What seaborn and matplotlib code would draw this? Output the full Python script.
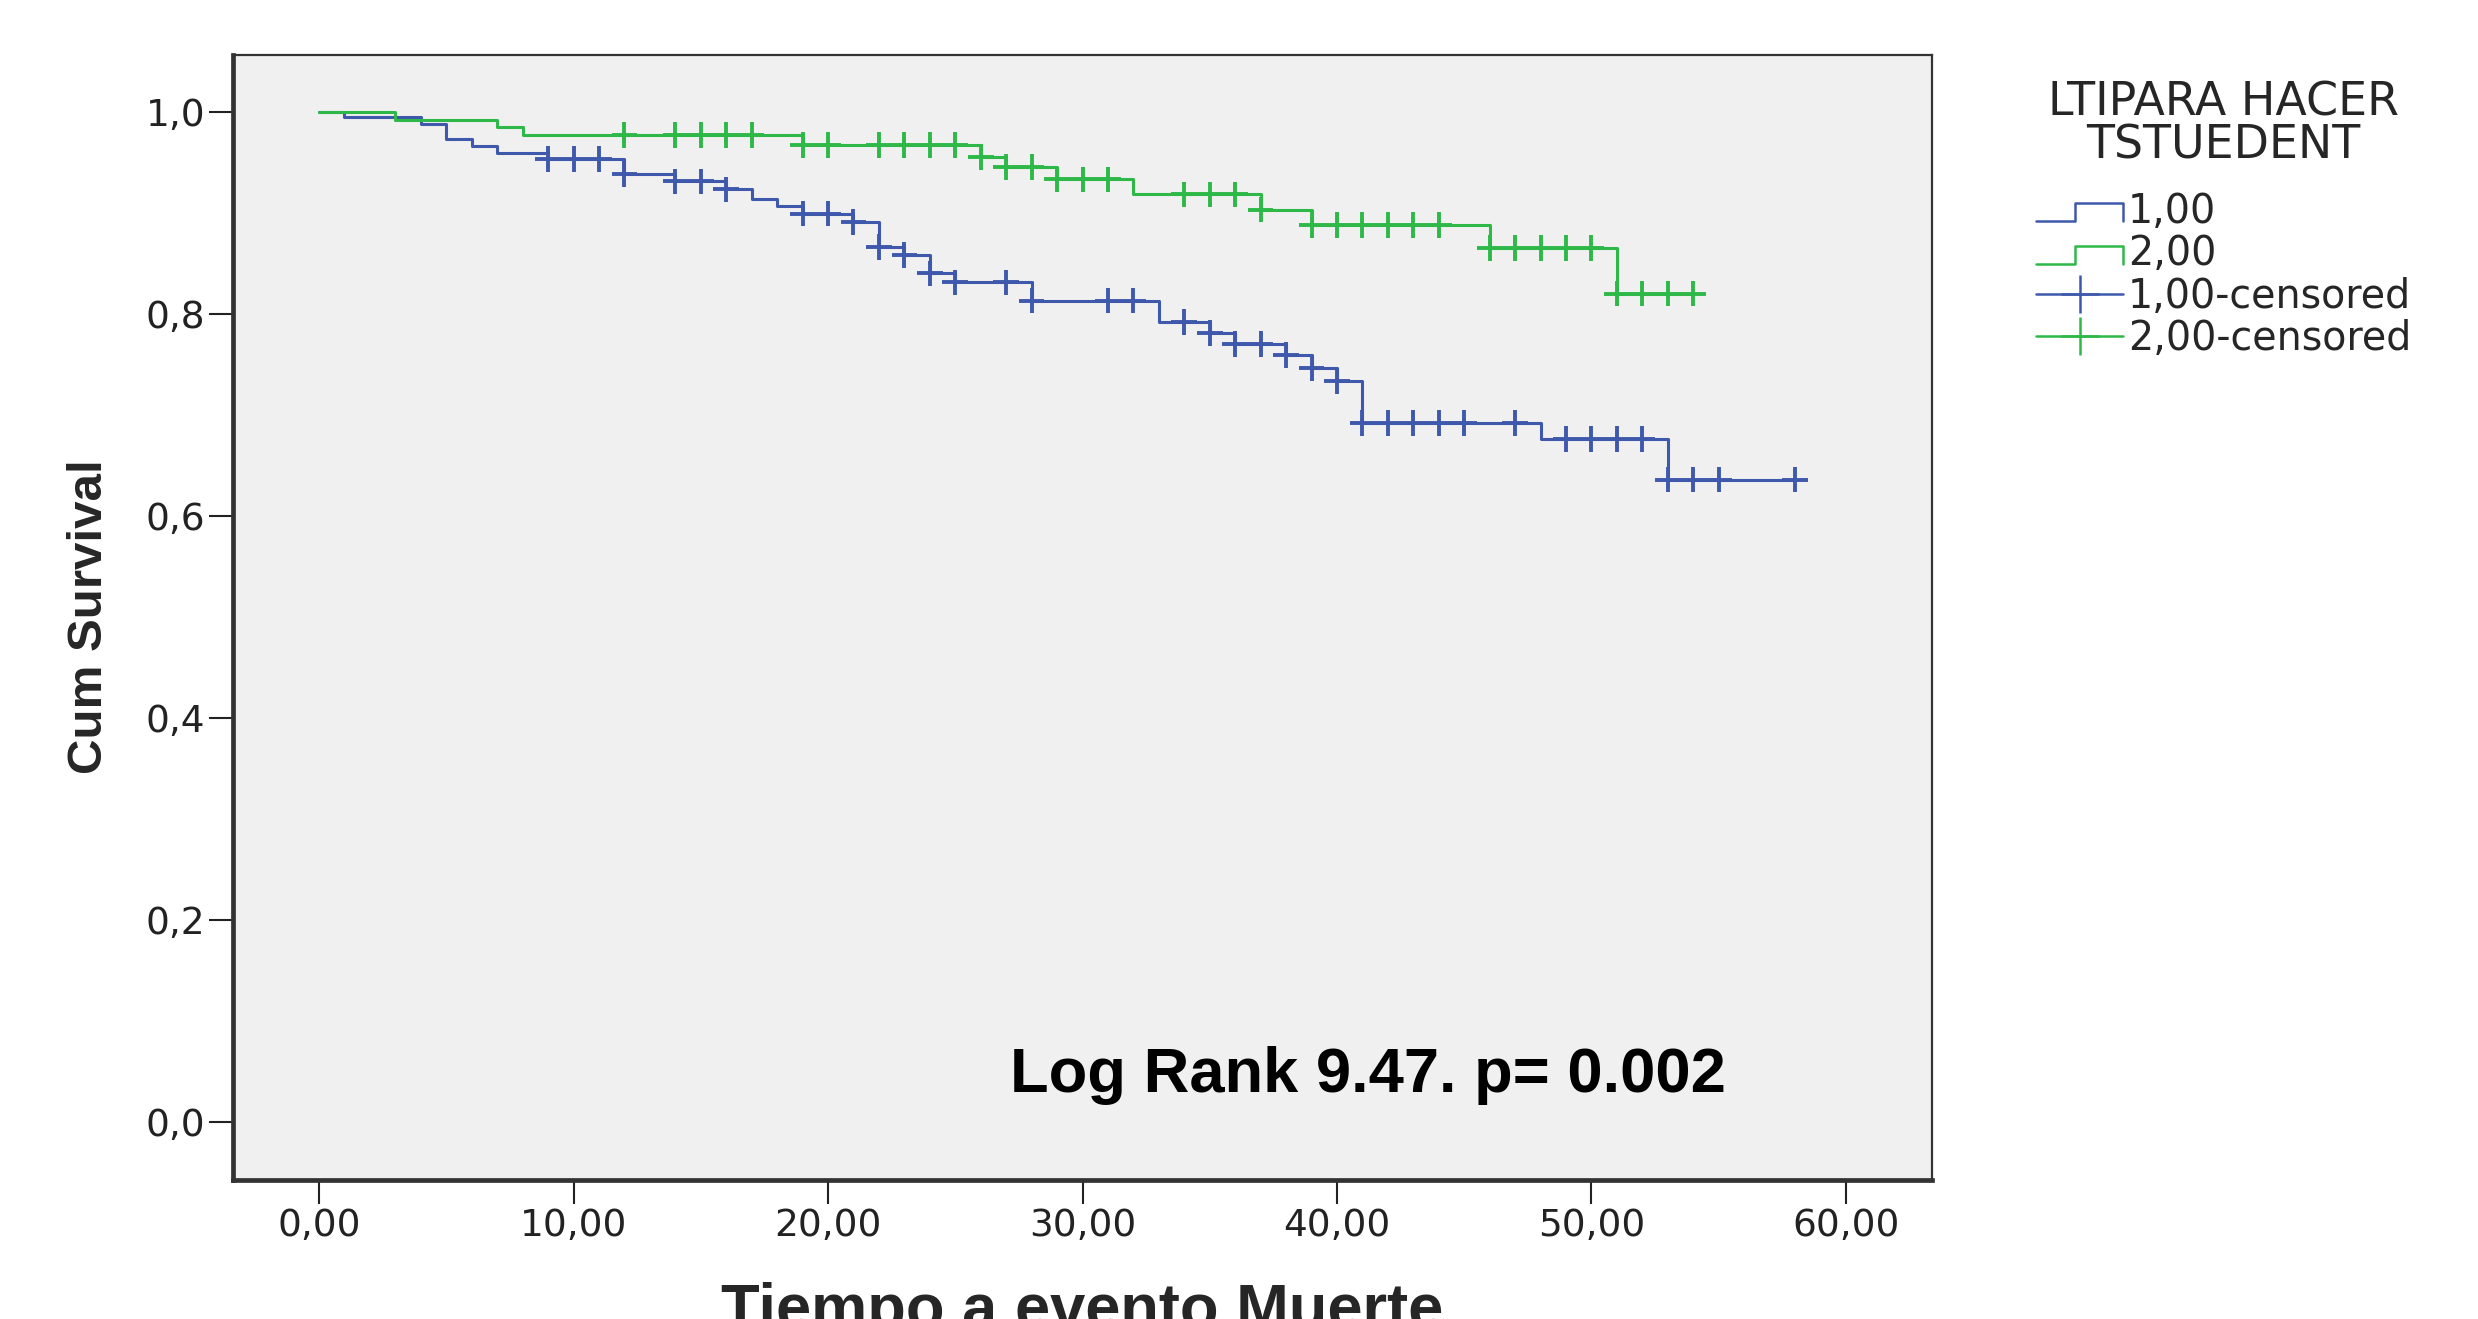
import numpy as np
import pandas as pd
import matplotlib
matplotlib.use('Agg')
import matplotlib.pyplot as plt
import seaborn as sns
from matplotlib.lines import Line2D
from matplotlib.legend_handler import HandlerBase

# groups
groups = ['1,00', '2,00']
colors = ['#3E58AC', '#2EB848']

# Kaplan-Meier steps, group 1,00 (last point = last censored time)
t1_event = [0, 1, 4, 5, 6, 7, 9, 12, 14, 16, 17, 18, 19, 21, 22, 23, 24, 25,
            28, 33, 35, 36, 38, 39, 40, 41, 48, 53, 58]
s1_event = [1.0, 0.995, 0.988, 0.973, 0.966, 0.959, 0.953, 0.938, 0.931, 0.923,
            0.914, 0.907, 0.899, 0.891, 0.866, 0.858, 0.840, 0.831, 0.813, 0.792,
            0.781, 0.770, 0.759, 0.746, 0.733, 0.692, 0.676, 0.636, 0.636]

# censored cases, group 1,00
t1_cens = [9, 10, 11, 12, 14, 15, 16, 19, 20, 21, 22, 23, 24, 25, 27, 28, 31, 32,
           34, 35, 36, 37, 38, 39, 40, 41, 42, 43, 44, 45, 47, 49, 50, 51, 52,
           53, 54, 55, 58]
s1_cens = [0.953, 0.953, 0.953, 0.938, 0.931, 0.931, 0.923, 0.899, 0.899, 0.891,
           0.866, 0.858, 0.840, 0.831, 0.831, 0.813, 0.813, 0.813, 0.792, 0.781,
           0.770, 0.770, 0.759, 0.746, 0.733, 0.692, 0.692, 0.692, 0.692, 0.692,
           0.692, 0.676, 0.676, 0.676, 0.676, 0.636, 0.636, 0.636, 0.636]

# Kaplan-Meier steps, group 2,00
t2_event = [0, 3, 7, 8, 19, 26, 27, 29, 32, 37, 39, 46, 51, 54]
s2_event = [1.0, 0.992, 0.985, 0.977, 0.967, 0.955, 0.945, 0.933, 0.918, 0.903,
            0.888, 0.865, 0.820, 0.820]

# censored cases, group 2,00
t2_cens = [12, 14, 15, 16, 17, 19, 20, 22, 23, 24, 25, 26, 27, 28, 29, 30, 31,
           34, 35, 36, 37, 39, 40, 41, 42, 43, 44, 46, 47, 48, 49, 50, 51, 52,
           53, 54]
s2_cens = [0.977, 0.977, 0.977, 0.977, 0.977, 0.967, 0.967, 0.967, 0.967, 0.967,
           0.967, 0.955, 0.945, 0.945, 0.933, 0.933, 0.933, 0.918, 0.918, 0.918,
           0.903, 0.888, 0.888, 0.888, 0.888, 0.888, 0.888, 0.865, 0.865, 0.865,
           0.865, 0.865, 0.820, 0.820, 0.820, 0.820]

xticks = [0, 10, 20, 30, 40, 50, 60]
xtick_labels = ['0,00', '10,00', '20,00', '30,00', '40,00', '50,00', '60,00']
yticks = [0.0, 0.2, 0.4, 0.6, 0.8, 1.0]
ytick_labels = ['0,0', '0,2', '0,4', '0,6', '0,8', '1,0']

legend_title = 'LTIPARA HACER\nTSTUEDENT'
annotation = 'Log Rank 9.47. p= 0.002'

curves = pd.concat([
    pd.DataFrame({'time': t1_event, 'surv': s1_event, 'group': groups[0]}),
    pd.DataFrame({'time': t2_event, 'surv': s2_event, 'group': groups[1]}),
], ignore_index=True)
censored = pd.concat([
    pd.DataFrame({'time': t1_cens, 'surv': s1_cens, 'group': groups[0]}),
    pd.DataFrame({'time': t2_cens, 'surv': s2_cens, 'group': groups[1]}),
], ignore_index=True)

sns.set_theme(style='ticks')
plt.rcParams['font.family'] = ['DejaVu Sans']

W, H = 2478, 1319
fig = plt.figure(figsize=(W / 100, H / 100), dpi=100, facecolor='white')
ax = fig.add_axes([233 / W, 1 - 1180 / H, (1932 - 233) / W, (1180 - 55) / H])
ax.set_facecolor('#F0F0F0')

pal = dict(zip(groups, colors))
sns.lineplot(data=curves, x='time', y='surv', hue='group', palette=pal,
             drawstyle='steps-post', estimator=None, sort=False,
             lw=2.2, legend=False, ax=ax)
sns.scatterplot(data=censored, x='time', y='surv', hue='group', palette=pal,
                marker='+', s=340, linewidth=2.8, legend=False, ax=ax, zorder=3)

ax.set_xlim(-3.38, 63.38)
ax.set_ylim(-0.057, 1.056)
ax.set_xticks(xticks)
ax.set_xticklabels(xtick_labels)
ax.set_yticks(yticks)
ax.set_yticklabels(ytick_labels)
ax.tick_params(axis='both', direction='out', length=17, width=1.5,
               colors='#222222', labelsize=27, pad=3)
ax.set_xlabel('')
ax.set_ylabel('')

for side in ['top', 'right']:
    ax.spines[side].set_linewidth(1.6)
    ax.spines[side].set_color('#333333')
for side in ['left', 'bottom']:
    ax.spines[side].set_linewidth(3.4)
    ax.spines[side].set_color('#333333')

ax.text(27.15, 0.030, annotation, fontsize=45.5, fontweight='bold',
        family=['Liberation Sans', 'DejaVu Sans'], color='black', va='baseline')

# x label sits partly below the canvas edge, as in the original export
fig.text(1082.5 / W, 1 - 1328 / H, 'Tiempo a evento Muerte', fontsize=45.5,
         fontweight='bold', family=['Liberation Sans', 'DejaVu Sans'],
         ha='center', va='baseline')
fig.text(90 / W, 1 - 617 / H, 'Cum Survival', fontsize=35.5, fontweight='bold',
         family=['Liberation Sans', 'DejaVu Sans'],
         rotation=90, ha='center', va='center')


class StepHandler(HandlerBase):
    def create_artists(self, legend, orig_handle, xdescent, ydescent,
                       width, height, fontsize, trans):
        xs = np.array([0.0, 0.45, 0.45, 1.0, 1.0]) * width - xdescent
        ys = np.array([0.05, 0.05, 0.7, 0.7, 0.05]) * height - ydescent
        ln = Line2D(xs, ys, color=orig_handle.get_color(), lw=1.8)
        ln.set_transform(trans)
        return [ln]


step_handles = [Line2D([], [], color=c) for c in colors]
cens_handles = [Line2D([], [], color=c, lw=1.8, marker='+', markersize=28,
                       markeredgewidth=1.8) for c in colors]
handles = step_handles + cens_handles
labels = groups + [g + '-censored' for g in groups]

leg = fig.legend(handles, labels, title=legend_title, loc='upper left',
                 bbox_to_anchor=(2036 / W, 1 - 80 / H), frameon=False,
                 borderpad=0, borderaxespad=0, handlelength=2.2,
                 handletextpad=0.12, labelspacing=0.06, fontsize=28.5,
                 title_fontsize=33, numpoints=1, alignment='center',
                 handler_map={h: StepHandler() for h in step_handles})
leg.get_title().set_multialignment('center')
leg.get_title().set_linespacing(0.95)
leg._legend_box.sep = 17

fig.savefig('out.png', dpi=100, facecolor='white')
